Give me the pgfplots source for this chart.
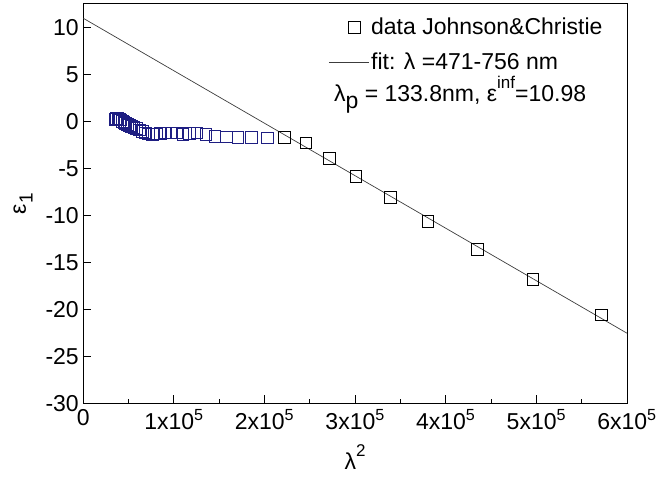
\documentclass[border=0pt]{standalone}
\usepackage{pgfplots}
\pgfplotsset{compat=1.18}
\usepackage{fontspec}
\setmainfont{Liberation Sans}
\definecolor{navyb}{RGB}{30,30,130}
\definecolor{fitgray}{RGB}{60,60,60}
\pgfplotsset{fitlegend/.style={legend image code/.code={\draw[##1] (-17bp,0bp) -- (23bp,0bp);}}}
\begin{document}
\begin{tikzpicture}
\begin{axis}[
  name=ax, scale only axis, width=543.7bp, height=399.3bp,
  xmin=0, xmax=600000, ymin=-30, ymax=12.5,
  xtick={0,100000,200000,300000,400000,500000,600000},
  xticklabels={0,1x10\textsuperscript{5},2x10\textsuperscript{5},3x10\textsuperscript{5},4x10\textsuperscript{5},5x10\textsuperscript{5},6x10\textsuperscript{5}},
  minor x tick num=1,
  ytick={-30,-25,-20,-15,-10,-5,0,5,10},
  yticklabels={-30,-25,-20,-15,-10,-5,0,5,10},
  scaled x ticks=false,
  tick align=inside, xtick pos=left, ytick pos=left,
  major tick length=8bp, minor tick length=4bp,
  axis line style={line width=1pt},
  every tick/.style={line width=1pt, black},
  tick label style={font=\fontsize{23bp}{27bp}\selectfont},
  xticklabel style={yshift=-3bp},
  yticklabel style={xshift=-1bp},
  label style={font=\fontsize{23bp}{27bp}\selectfont},
  xlabel={λ\raisebox{0.55em}{\fontsize{17bp}{19bp}\selectfont 2}},
  ylabel={ε\raisebox{-0.3em}{\fontsize{19bp}{21bp}\selectfont 1}},
  xlabel style={yshift=-8bp},
  ylabel style={yshift=6bp},
  legend style={draw=none, fill=none, at={(0.445,0.975)}, anchor=north west,
    font=\fontsize{23bp}{27bp}\selectfont, row sep=13bp},
  legend cell align=left,
]
\addplot[only marks, mark=square, mark size=5.8bp, draw=navyb, line width=1pt, forget plot] coordinates {
(35288,0.23) (36722,0.29) (38123,0.29) (39733,0.20) (41311,0.14)
(42986,-0.01) (44919,-0.13) (46820,-0.23) (49018,-0.35) (51189,-0.42)
(53505,-0.55) (55984,-0.62) (58869,-0.74) (61737,-0.89) (65081,-1.08)
(68419,-1.24) (72017,-1.35) (76251,-1.37) (80497,-1.33) (85509,-1.31)
(90559,-1.23) (96559,-1.24) (102637,-1.23) (109899,-1.36) (117306,-1.31)
(125486,-1.23) (135358,-1.40) (145535,-1.61) (157911,-1.65) (170800,-1.70)
(185330,-1.69) (203266,-1.76)
};
\addplot[only marks, mark=square, mark size=5.8bp, draw=black, line width=1pt] coordinates {
(222237,-1.70) (245956,-2.28) (271378,-3.95) (300962,-5.84) (338817,-8.11)
(380491,-10.66) (434927,-13.65) (496250,-16.82) (571536,-20.61)
};
\addlegendentry{data Johnson\&Christie}
\addplot[no marks, line width=0.7pt, color=fitgray, fitlegend] coordinates {(0,10.98) (600000,-22.54)};
\addlegendentry{fit: λ =471-756 nm}
\node[anchor=base west, font=\fontsize{23bp}{27bp}\selectfont, inner sep=0pt] at (rel axis cs:0.461,0.755)
  {λ\raisebox{-0.3em}{p} = 133.8nm, ε\raisebox{0.6em}{\fontsize{17bp}{19bp}\selectfont inf}=10.98};
\end{axis}
\pgfresetboundingbox
\path[use as bounding box] ([shift={(-83.3bp,-83.7bp)}]ax.south west) rectangle ([shift={(30bp,4bp)}]ax.north east);
\end{tikzpicture}
\end{document}
